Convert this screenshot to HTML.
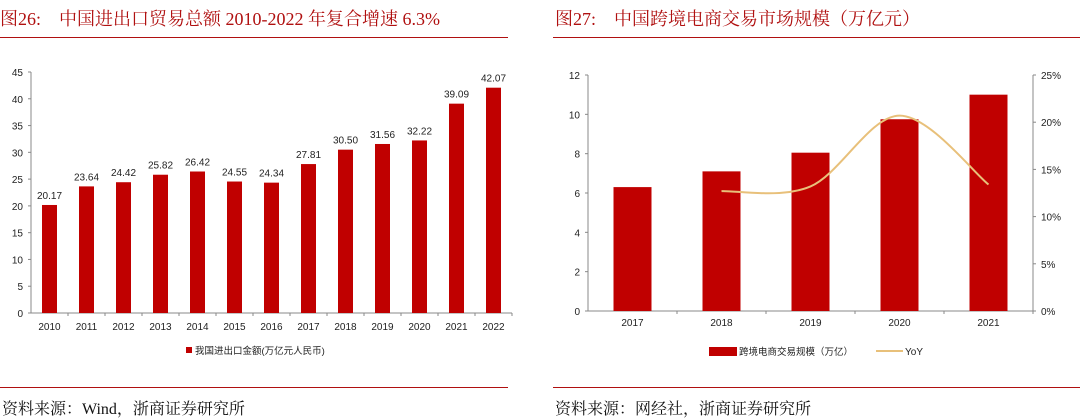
<!DOCTYPE html>
<html><head><meta charset="utf-8"><style>
body{margin:0;width:1080px;height:419px;background:#fff;overflow:hidden;position:relative;font-family:"Liberation Serif","Noto Serif CJK SC",serif}
.t{position:absolute;top:5px;font-size:18px;color:#b01010;white-space:nowrap}
.f{position:absolute;top:396px;font-size:16px;color:#111;white-space:nowrap}
.hl{position:absolute;height:1px;background:#b01010}
svg{position:absolute;left:0;top:0}
svg text{font-family:"Liberation Sans","Noto Sans CJK SC",sans-serif;fill:#222}
</style></head><body>
<div class="t">图26:&nbsp;&nbsp;&nbsp;&nbsp;中国进出口贸易总额 2010-2022 年复合增速 6.3%</div>
<div class="t" style="left:555px">图27:&nbsp;&nbsp;&nbsp;&nbsp;中国跨境电商交易市场规模（万亿元）</div>
<div class="hl" style="left:0;top:37px;width:508px"></div>
<div class="hl" style="left:553px;top:37px;width:527px"></div>
<div class="hl" style="left:0;top:387px;width:508px"></div>
<div class="hl" style="left:553px;top:387px;width:527px"></div>
<div class="f" style="left:2px">资料来源：Wind，浙商证券研究所</div>
<div class="f" style="left:555px">资料来源：网经社，浙商证券研究所</div>
<svg width="1080" height="419" id="s"></svg>
<script>
const years1=["2010","2011","2012","2013","2014","2015","2016","2017","2018","2019","2020","2021","2022"];
const trade=[20.17,23.64,24.42,25.82,26.42,24.55,24.34,27.81,30.50,31.56,32.22,39.09,42.07];
const ticks1=[0,5,10,15,20,25,30,35,40,45];
const years2=["2017","2018","2019","2020","2021"];
const ecom=[6.3,7.1,8.05,9.75,11.0];
const yoy=[null,12.7,13.2,20.7,13.4];
const ticks2=[0,2,4,6,8,10,12];
const ticksR=[0,5,10,15,20,25];
const S=document.getElementById('s');const NS='http://www.w3.org/2000/svg';
function el(t,a,txt){const e=document.createElementNS(NS,t);for(const k in a)e.setAttribute(k,a[k]);if(txt!==undefined)e.textContent=txt;S.appendChild(e);return e;}
const RED='#c00000';
const x0=31,x1=512,yb=313,yt=72;
const y1=v=>yb-(v/45)*(yb-yt);const st1=(x1-x0)/years1.length;
let e=el('line',{x1:x0,y1:yt,x2:x0,y2:yb,stroke:'#888'});

e=el('line',{x1:x0,y1:yb,x2:x1,y2:yb,stroke:'#888'});

ticks1.forEach(t=>{el('line',{x1:x0-3,y1:y1(t),x2:x0,y2:y1(t),stroke:'#888'});
e=el('text',{x:x0-8,y:y1(t)+4,'font-size':10,'text-anchor':'end'},t);
});
years1.forEach((y,i)=>{const cx=x0+st1*(i+.5);el('line',{x1:x0+st1*(i+1),y1:yb,x2:x0+st1*(i+1),y2:yb+3,stroke:'#888'});
e=el('rect',{x:cx-7.5,y:y1(trade[i]),width:15,height:yb-y1(trade[i]),fill:RED});

e=el('text',{x:cx,y:y1(trade[i])-6,'font-size':10,'text-anchor':'middle'},trade[i].toFixed(2));

e=el('text',{x:cx,y:330,'font-size':10,'text-anchor':'middle'},y);
});
e=el('rect',{x:186,y:347,width:6,height:6,fill:RED});

e=el('text',{x:195,y:354,'font-size':9.5},'我国进出口金额(万亿元人民币)');

const X0=588,X1=1033,Yb=311,Yt=75;
const yl=v=>Yb-(v/12)*(Yb-Yt),yr=v=>Yb-(v/25)*(Yb-Yt);const st2=(X1-X0)/years2.length;
e=el('line',{x1:X0,y1:Yt,x2:X0,y2:Yb,stroke:'#888'});

e=el('line',{x1:X1,y1:Yt,x2:X1,y2:Yb,stroke:'#888'});

e=el('line',{x1:X0,y1:Yb,x2:X1,y2:Yb,stroke:'#888'});

ticks2.forEach(t=>{el('line',{x1:X0-3,y1:yl(t),x2:X0,y2:yl(t),stroke:'#888'});
e=el('text',{x:X0-8,y:yl(t)+4,'font-size':10,'text-anchor':'end'},t);
});
ticksR.forEach(t=>{el('line',{x1:X1,y1:yr(t),x2:X1+3,y2:yr(t),stroke:'#888'});
e=el('text',{x:X1+8,y:yr(t)+4,'font-size':10},t+'%');
});
const pts=[];
years2.forEach((y,i)=>{const cx=X0+st2*(i+.5);el('line',{x1:X0+st2*(i+1),y1:Yb,x2:X0+st2*(i+1),y2:Yb+3,stroke:'#888'});
e=el('rect',{x:cx-19,y:yl(ecom[i]),width:38,height:Yb-yl(ecom[i]),fill:RED});

e=el('text',{x:cx,y:326,'font-size':10,'text-anchor':'middle'},y);

if(yoy[i]!=null)pts.push([cx,yr(yoy[i])]);});
let d='M'+pts[0][0]+','+pts[0][1];
for(let i=0;i<pts.length-1;i++){const p0=pts[i-1]||pts[i],p1=pts[i],p2=pts[i+1],p3=pts[i+2]||p2;
d+=` C${p1[0]+(p2[0]-p0[0])/6},${p1[1]+(p2[1]-p0[1])/6} ${p2[0]-(p3[0]-p1[0])/6},${p2[1]-(p3[1]-p1[1])/6} ${p2[0]},${p2[1]}`;}
e=el('path',{d:d,fill:'none',stroke:'#e8c07a','stroke-width':2});

e=el('rect',{x:709,y:347,width:28,height:9,fill:RED});

e=el('text',{x:739,y:355,'font-size':9.5},'跨境电商交易规模（万亿）');

e=el('line',{x1:876,y1:351,x2:903,y2:351,stroke:'#e8c07a','stroke-width':2});

e=el('text',{x:905,y:355,'font-size':10},'YoY');

</script>
</body></html>
